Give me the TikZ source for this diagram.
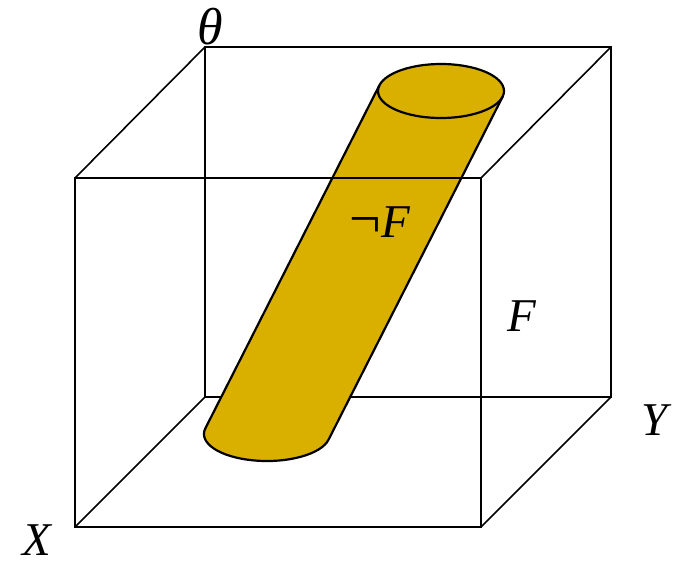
\documentclass[tikz,border=0pt]{standalone}
\usepackage{fontspec}
\setmainfont{Liberation Serif}
\usetikzlibrary{calc}
\definecolor{cylgold}{HTML}{D9AF00}

\begin{document}
\begin{tikzpicture}[
    x=1pt, y=-1pt,
    edge/.style={draw=black, line width=1.6pt},
    rim/.style={draw=black, line width=2.2pt},
    body/.style={fill=cylgold},
    axislabel/.style={font=\fontsize{47}{52}\selectfont\itshape, inner sep=0pt}
]
\useasboundingbox (0,0) rectangle (675,566);

% ==========================================
% CUBE CORNERS
% ==========================================

\coordinate (ftl) at (75,178);
\coordinate (ftr) at (481,178);
\coordinate (fbr) at (481,527);
\coordinate (fbl) at (75,527);
\coordinate (btl) at (205,47);
\coordinate (btr) at (611,47);
\coordinate (bbr) at (611,397);
\coordinate (bbl) at (205,397);

% ==========================================
% BACK FACE AND DEPTH EDGES
% ==========================================

\draw[edge] (btl) -- (btr) -- (bbr) -- (bbl) -- cycle;
\foreach \f/\b in {ftl/btl, ftr/btr, fbr/bbr, fbl/bbl}
  \draw[edge] (\f) -- (\b);

% ==========================================
% CYLINDER
% ==========================================

\coordinate (ctop) at (441,91);
\coordinate (cbot) at (267,434);
\coordinate (ltop) at ($(ctop)+(-61.6,-5.75)$);
\coordinate (rtop) at ($(ctop)+(61.6,5.75)$);
\coordinate (lbot) at ($(cbot)+(-61.6,-5.75)$);
\coordinate (rbot) at ($(cbot)+(61.6,5.75)$);

\path[body] (ltop) -- (lbot)
  arc[start angle=192.3, end angle=12.3, x radius=63, y radius=27]
  -- (rtop)
  arc[start angle=12.3, end angle=-167.7, x radius=63, y radius=27]
  -- cycle;

\draw[rim] (ctop) ellipse [x radius=63, y radius=27];
\draw[rim] (ltop) -- (lbot)
  arc[start angle=192.3, end angle=12.3, x radius=63, y radius=27]
  -- (rtop);

% ==========================================
% FRONT FACE
% ==========================================

\draw[edge] (ftl) -- (ftr) -- (fbr) -- (fbl) -- cycle;

% ==========================================
% LABELS
% ==========================================

\node[axislabel] (theta) at (210,27) {\fontsize{52}{56}\selectfont θ};
\node[axislabel] (notf) at (380,222) {{\upshape\fontsize{56}{60}\selectfont ¬}F};
\node[axislabel] (fset) at (522,316) {F};
\node[axislabel] (ylab) at (655,420) {Y};
\node[axislabel] (xlab) at (37,540) {X};

\end{tikzpicture}
\end{document}
